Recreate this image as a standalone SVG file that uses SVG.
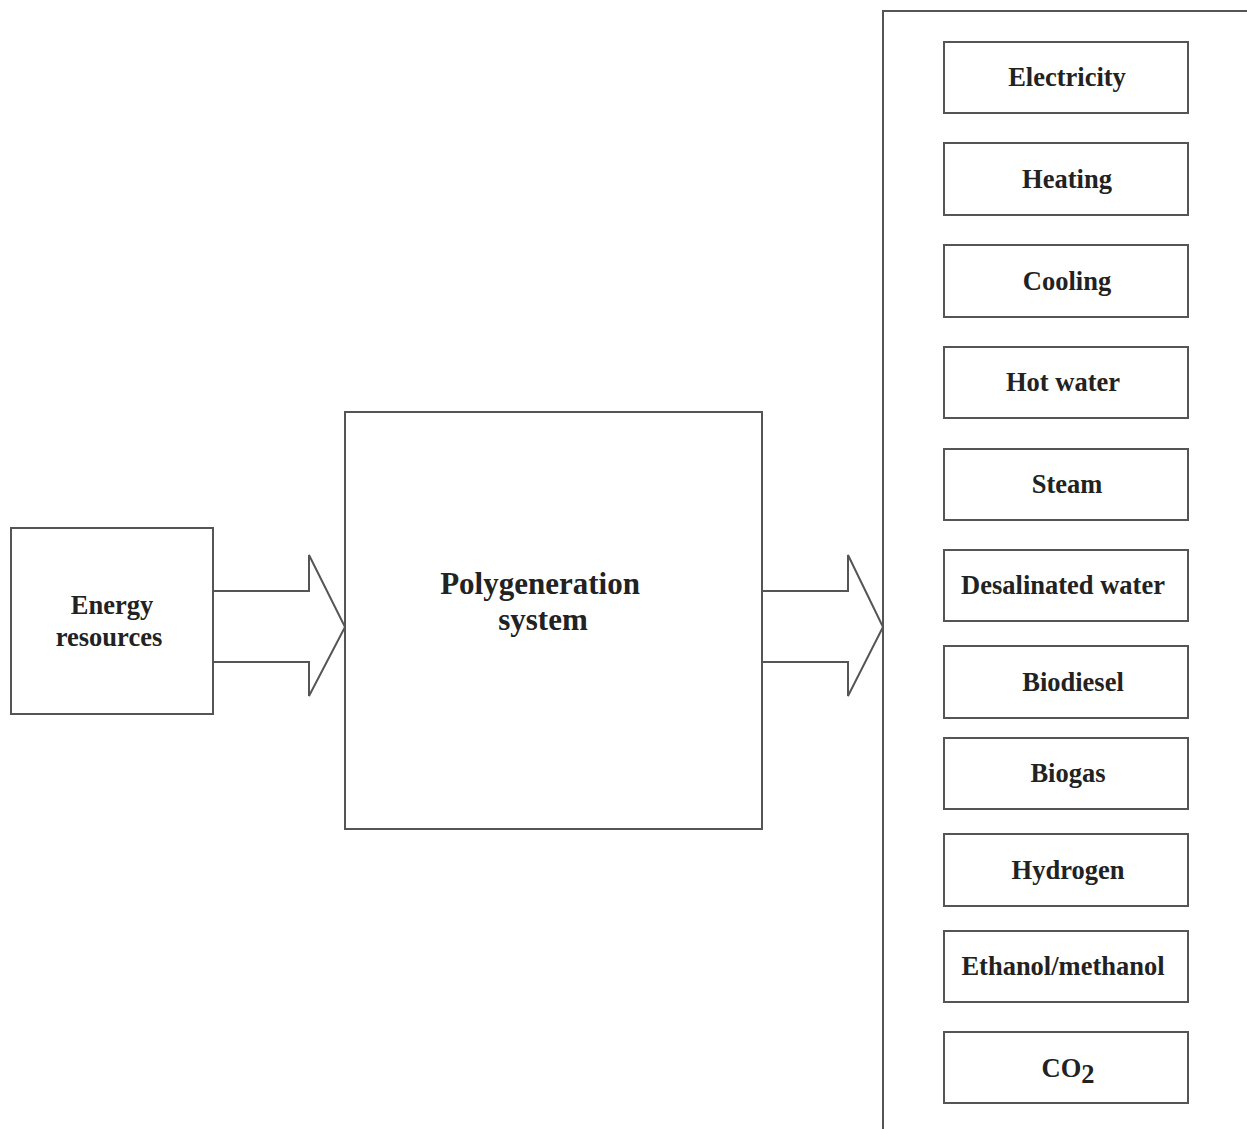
<svg xmlns="http://www.w3.org/2000/svg" width="1247" height="1129" viewBox="0 0 1247 1129">
<style>
.box{fill:#fff;stroke:#555;stroke-width:2}
.arr{fill:#fff;stroke:#555;stroke-width:2;stroke-linejoin:miter}
.t{font-family:"Liberation Serif","Times New Roman",serif;font-weight:bold;font-size:26.5px;fill:#222;text-anchor:middle}
.big{font-size:31px}
</style>
<rect width="1247" height="1129" fill="#fff"/>
<g id="outputs-frame"><rect x="883" y="11" width="420" height="1200" class="box"/></g>
<g id="connectors">
<path class="arr" d="M214,591 H309 V555 L345,627 L309,696 V662 H214"/>
<path class="arr" d="M762,591 H848 V555 L883,627 L848,696 V662 H762"/>
</g>
<g id="energy"><rect x="11" y="528" width="202" height="186" class="box"/><text class="t" x="112" y="614">Energy</text><text class="t" x="109" y="646">resources</text></g>
<g id="polygen"><rect x="345" y="412" width="417" height="417" class="box"/><text class="t big" x="540" y="594">Polygeneration</text><text class="t big" x="543" y="630">system</text></g>
<g id="electricity"><rect x="944" y="42" width="244" height="71" class="box"/><text class="t" x="1067" y="86">Electricity</text></g>
<g id="heating"><rect x="944" y="143" width="244" height="72" class="box"/><text class="t" x="1067" y="188">Heating</text></g>
<g id="cooling"><rect x="944" y="245" width="244" height="72" class="box"/><text class="t" x="1067" y="290">Cooling</text></g>
<g id="hotwater"><rect x="944" y="347" width="244" height="71" class="box"/><text class="t" x="1063" y="391">Hot water</text></g>
<g id="steam"><rect x="944" y="449" width="244" height="71" class="box"/><text class="t" x="1067" y="493">Steam</text></g>
<g id="desal"><rect x="944" y="550" width="244" height="71" class="box"/><text class="t" x="1063" y="594">Desalinated water</text></g>
<g id="biodiesel"><rect x="944" y="646" width="244" height="72" class="box"/><text class="t" x="1073" y="691">Biodiesel</text></g>
<g id="biogas"><rect x="944" y="738" width="244" height="71" class="box"/><text class="t" x="1068" y="782">Biogas</text></g>
<g id="hydrogen"><rect x="944" y="834" width="244" height="72" class="box"/><text class="t" x="1068" y="879">Hydrogen</text></g>
<g id="ethanol"><rect x="944" y="931" width="244" height="71" class="box"/><text class="t" x="1063" y="975">Ethanol/methanol</text></g>
<g id="co2"><rect x="944" y="1032" width="244" height="71" class="box"/><text class="t" x="1068" y="1077">CO<tspan dy="6">2</tspan></text></g>
</svg>
